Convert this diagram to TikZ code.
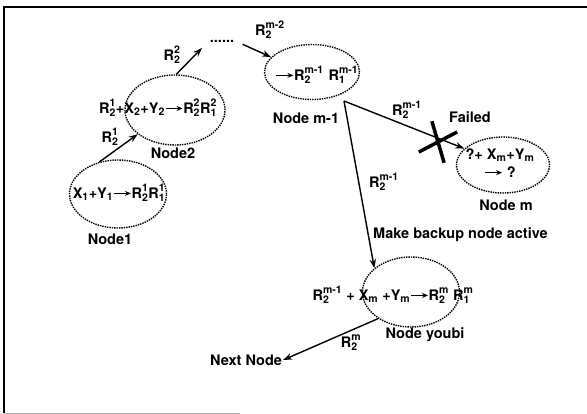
\documentclass[tikz,border=0pt]{standalone}
\usepackage{amsmath}
\usepackage{fontspec}
\setmainfont{TeX Gyre Heros}
\usetikzlibrary{arrows.meta,shapes.geometric,shapes.misc}
\DeclareMathSizes{14.5}{14.5}{10.5}{8}

\newcommand{\Rs}[2]{$\text{R}_{\text{#1}}^{\text{#2}}$}
\newcommand{\Vs}[2]{$\text{#1}_{\text{#2}}$}
\newcommand{\goesto}{\tikz[baseline=-0.6ex]\draw[-{Stealth[length=6pt,width=5pt]},line width=1.4pt,solid] (0pt,0pt) -- (17pt,0pt);}

\begin{document}
\begin{tikzpicture}[x=1pt,y=-1pt,
                    font=\fontsize{14.5}{17}\selectfont\bfseries,
                    host/.style={ellipse,draw,densely dotted,line width=1.4pt,inner sep=0pt},
                    tag/.style={inner sep=1pt},
                    arr/.style={-{Stealth[length=9pt,width=6.5pt]},line width=1.4pt}]

  \useasboundingbox (0,0) rectangle (587,414);
  \draw[line width=1.6pt] (587,7) -- (4,7) -- (4,413);
  \draw[gray!60,line width=0.8pt] (4,413) -- (240,413);

  % the chain of nodes
  \node[host,minimum width=97pt,minimum height=68pt] (n1) at (118,194) {};
  \node[tag] (t1) at (119,193) {\Vs{X}{1}+\Vs{Y}{1}\goesto\Rs{2}{1}\Rs{1}{1}};
  \node[tag] (l1) at (110,239) {Node1};

  \node[host,minimum width=100pt,minimum height=70pt] (n2) at (175,110) {};
  \node[tag] (t2) at (158,108) {\Rs{2}{1}+\Vs{X}{2}+\Vs{Y}{2}\goesto\Rs{2}{2}\Rs{1}{2}};
  \node[tag] (l2) at (173,153) {Node2};

  \node[tag] (dots) at (222,41) {......};
  \coordinate (c2) at (202,48);

  \node[host,minimum width=95pt,minimum height=55pt] (nm1) at (312,72) {};
  \node[tag] (t3) at (317,75) {\goesto\Rs{2}{m-1}\,\,\Rs{1}{m-1}};
  \node[tag] (l3) at (306,118) {Node m-1};
  \coordinate (split) at (344,101);

  \node[host,minimum width=93pt,minimum height=56pt] (nm) at (503,165) {};
  \node[tag,align=center] (t4) at (500,163) {?+ \Vs{X}{m}+\Vs{Y}{m}\\[1pt]\goesto\ ?};
  \node[tag] (l4) at (506,205) {Node m};
  \node[tag] (fail) at (470,117) {Failed};
  \node[cross out,draw,line width=3.5pt,minimum width=30pt,minimum height=24pt,rotate=67] (x) at (438,142) {};

  \node[host,minimum width=97pt,minimum height=70pt] (nb) at (411,292) {};
  \node[tag] (t5) at (393,295) {\Rs{2}{m-1} + \Vs{X}{m} +\Vs{Y}{m}\goesto\Rs{2}{m} \Rs{1}{m}};
  \node[tag] (l5) at (425,335) {Node youbi};
  \node[tag,anchor=west] (act) at (372,235) {Make backup node active};

  \node[tag] (next) at (246,360) {Next Node};

  % messages
  \draw[arr] (n1.120) -- (n2.213);
  \node[tag] (r1) at (110,137) {\Rs{2}{1}};
  \draw[arr] (n2.88) -- (c2);
  \node[tag] (r2) at (172,55) {\Rs{2}{2}};
  \draw[arr,shorten <=8pt] (dots.east) -- (nm1.160);
  \node[tag] (r3) at (270,30) {\Rs{2}{m-2}};
  \draw[arr] (split) -- (nm.157);
  \node[tag] (r4) at (407,110) {\Rs{2}{m-1}};
  \draw[arr] (split) -- (nb.147);
  \node[tag] (r5) at (384,182) {\Rs{2}{m-1}};
  \draw[arr] (nb.219) -- (next.east);
  \node[tag] (r6) at (351,343) {\Rs{2}{m}};

\end{tikzpicture}
\end{document}
